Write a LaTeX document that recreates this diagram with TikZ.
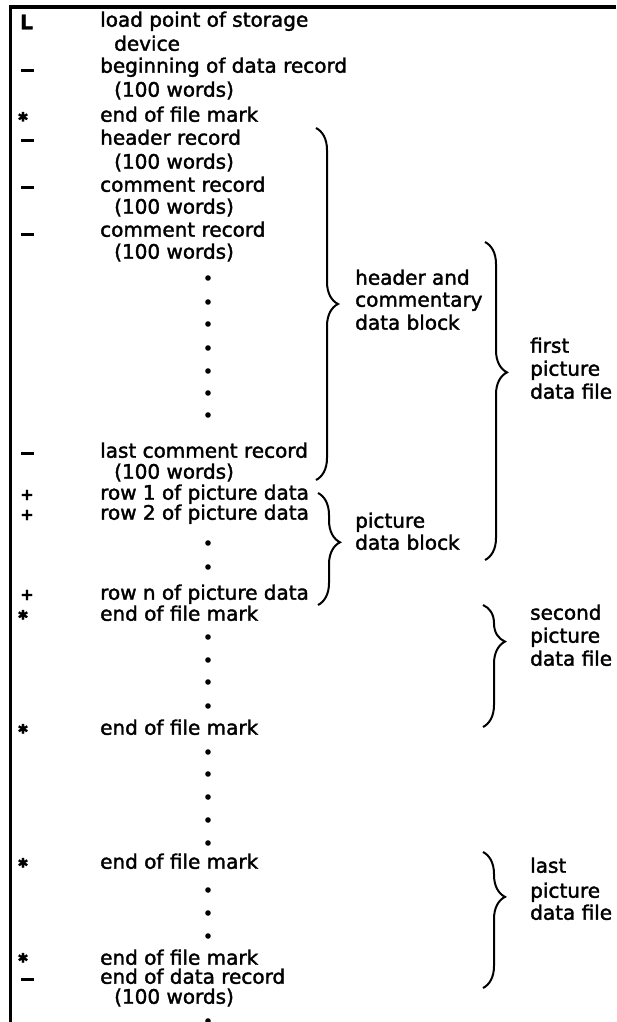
\documentclass[tikz,border=0pt]{standalone}
\usepackage{fontspec}
\setmainfont{DejaVu Sans}[FakeBold=1.8]
\usetikzlibrary{decorations.pathreplacing}
\begin{document}
\begin{tikzpicture}[x=1pt,y=-1pt,
  txt/.style={anchor=mid west, inner sep=0pt, font=\fontsize{20}{24}\selectfont},
  sub/.style={txt},
  lab/.style={anchor=mid west, inner sep=0pt, font=\fontsize{20}{24}\selectfont},
  mkL/.style={anchor=center, inner sep=0pt, font=\fontsize{20}{24}\selectfont\bfseries},
  mkdash/.style={anchor=center, inner sep=0pt, fill=black, minimum width=13pt, minimum height=3pt},
  mkplus/.style={anchor=center, inner sep=0pt, font=\fontsize{16}{16}\selectfont\bfseries},
  mkast/.style={anchor=center, inner sep=0pt, font=\fontsize{13}{13}\selectfont},
  vdot/.style={fill=black},
  brc/.style={decorate, decoration={brace, amplitude=22pt}, line width=2pt},
  frame/.style={line width=3.5pt}
]
\useasboundingbox (0,0) rectangle (616,1022);
% frame
\coordinate (ftr) at (616,7);
\coordinate (ftl) at (10.5,7);
\coordinate (fbl) at (10.5,1022);
\draw[frame] (ftr) -- (ftl) -- (fbl);

% markers
\newcommand{\eofmark}{\raisebox{-4.5pt}[4pt][4pt]{✱}}
\node[mkL] (m1) at (26.5,22) {L};
\node[mkdash] (m2) at (27,71) {};
\node[mkast] (m3) at (23,117) {\eofmark};
\node[mkdash] (m4) at (27,140) {};
\node[mkdash] (m5) at (27,187) {};
\node[mkdash] (m6) at (27,234) {};
\node[mkdash] (m7) at (27,453) {};
\node[mkplus] (m8) at (27,495) {+};
\node[mkplus] (m9) at (27,515) {+};
\node[mkplus] (m10) at (27,595) {+};
\node[mkast] (m11) at (23,615) {\eofmark};
\node[mkast] (m12) at (23,729) {\eofmark};
\node[mkast] (m13) at (23,863) {\eofmark};
\node[mkast] (m14) at (23,958) {\eofmark};
\node[mkdash] (m15) at (27,979) {};

% texts
\node[txt] (t1) at (100,24) {load point of storage};
\node[sub] (t1b) at (114,48) {device};
\node[txt] (t2) at (100,70) {beginning of data record};
\node[sub] (t2b) at (114,94) {(100 words)};
\node[txt] (t3) at (100,119) {end of file mark};
\node[txt] (t4) at (100,142) {header record};
\node[sub] (t4b) at (114,166) {(100 words)};
\node[txt] (t5) at (100,189) {comment record};
\node[sub] (t5b) at (114,211) {(100 words)};
\node[txt] (t6) at (100,234) {comment record};
\node[sub] (t6b) at (114,256) {(100 words)};
\node[txt] (t7) at (100,455) {last comment record};
\node[sub] (t7b) at (114,476) {(100 words)};
\node[txt] (t8) at (100,497) {row 1 of picture data};
\node[txt] (t9) at (100,517) {row 2 of picture data};
\node[txt] (t10) at (100,597) {row n of picture data};
\node[txt] (t11) at (100,618) {end of file mark};
\node[txt] (t12) at (100,732) {end of file mark};
\node[txt] (t13) at (100,866) {end of file mark};
\node[txt] (t14) at (100,962) {end of file mark};
\node[txt] (t15) at (100,981) {end of data record};
\node[sub] (t15b) at (114,1001) {(100 words)};

% vertical dots
\foreach \yy in {278,302,324,348,371,393,415,543,567,637,660,682,706,752,774,797,820,843,890,913,936,1021}
  \fill[vdot] (208,\yy) circle (2.8);

% braces
\coordinate (b1t) at (316,128); \coordinate (b1b) at (316,480);
\draw[brc, decoration={aspect=0.5}] (b1t) -- (b1b);
\coordinate (b2t) at (318,493); \coordinate (b2b) at (318,605);
\draw[brc, decoration={aspect=0.44}] (b2t) -- (b2b);
\coordinate (b3t) at (485,242); \coordinate (b3b) at (485,560);
\draw[brc, decoration={aspect=0.41}] (b3t) -- (b3b);
\coordinate (b4t) at (483,605); \coordinate (b4b) at (483,727);
\draw[brc, decoration={aspect=0.3}] (b4t) -- (b4b);
\coordinate (b5t) at (483,852); \coordinate (b5b) at (483,988);
\draw[brc, decoration={aspect=0.33}] (b5t) -- (b5b);

% labels
\node[lab] (l1a) at (355,282) {header and};
\node[lab] (l1b) at (355,304) {commentary};
\node[lab] (l1c) at (355,327) {data block};
\node[lab] (l2a) at (355,525) {picture};
\node[lab] (l2b) at (355,547) {data block};
\node[lab] (l3a) at (530,350) {first};
\node[lab] (l3b) at (530,373) {picture};
\node[lab] (l3c) at (530,396) {data file};
\node[lab] (l4a) at (530,617) {second};
\node[lab] (l4b) at (530,640) {picture};
\node[lab] (l4c) at (530,663) {data file};
\node[lab] (l5a) at (530,870) {last};
\node[lab] (l5b) at (530,895) {picture};
\node[lab] (l5c) at (530,917) {data file};
\end{tikzpicture}
\end{document}
